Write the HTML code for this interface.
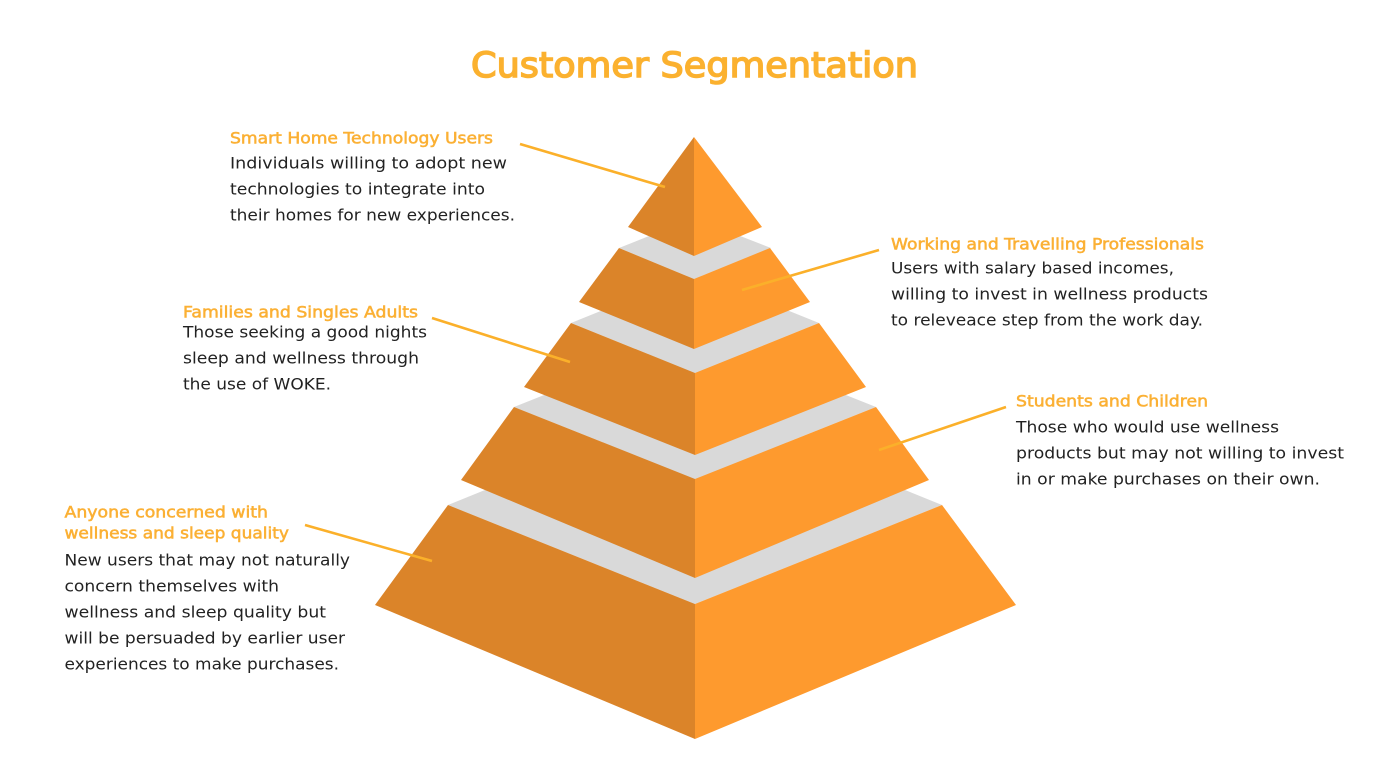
<!DOCTYPE html>
<html lang="en">
<head>
<meta charset="utf-8">
<title>Customer Segmentation</title>
<style>
html,body{margin:0;padding:0;background:#fff;width:1390px;height:782px;overflow:hidden}
svg{display:block}
text{font-family:"DejaVu Sans","Liberation Sans",sans-serif}
.h{font-size:16px;font-weight:400;fill:#fbb034;stroke:#fbb034;stroke-width:.55}
.b{font-size:16px;fill:#222}
.t{font-size:35px;fill:#fbb12f;stroke:#fbb12f;stroke-width:1.5}
.g{fill:#d9d9d9}.l{fill:#db8429}.r{fill:#fe9a2e}
.c{stroke:#fbb02a;stroke-width:2.6;fill:none}
</style>
</head>
<body>
<svg width="1390" height="782" viewBox="0 0 1390 782" xmlns="http://www.w3.org/2000/svg">
<rect width="1390" height="782" fill="#fff"/>
<text class="t" x="471" y="77" textLength="447" lengthAdjust="spacingAndGlyphs">Customer Segmentation</text>

<polygon class="g" points="448,505 695,405 942,505 695,604"/>
<polygon class="g" points="514,407 695,335 876,407 695,479"/>
<polygon class="g" points="571,323 695,273 819,323 695,373"/>
<polygon class="g" points="619,248 694,218 771,248 694,279"/>

<polygon class="l" points="448,505 695,604 695,739 375,605"/>
<polygon class="r" points="942,505 695,604 695,739 1016,605"/>
<polygon class="l" points="514,407 695,479 695,578 461,480"/>
<polygon class="r" points="876,407 695,479 695,578 929,480"/>
<polygon class="l" points="571,323 695,373 695,455 524,387"/>
<polygon class="r" points="819,323 695,373 695,455 866,387"/>
<polygon class="l" points="619,248 694,279 694,349 579,302"/>
<polygon class="r" points="770,248 694,279 694,349 810,302"/>
<polygon class="l" points="694,137 694,256 628,227"/>
<polygon class="r" points="694,137 694,256 762,227"/>

<line class="c" x1="520" y1="144" x2="665" y2="187"/>
<line class="c" x1="879" y1="250" x2="742" y2="290"/>
<line class="c" x1="432" y1="318" x2="570" y2="362"/>
<line class="c" x1="1006" y1="407" x2="879" y2="450"/>
<line class="c" x1="305" y1="525" x2="432" y2="561"/>

<text class="h" x="230" y="143.5" textLength="263" lengthAdjust="spacingAndGlyphs">Smart Home Technology Users</text>
<text class="b" x="230" y="168.5" textLength="277" lengthAdjust="spacingAndGlyphs">Individuals willing to adopt new</text>
<text class="b" x="230" y="194.5" textLength="255" lengthAdjust="spacingAndGlyphs">technologies to integrate into</text>
<text class="b" x="230" y="220.5" textLength="285" lengthAdjust="spacingAndGlyphs">their homes for new experiences.</text>

<text class="h" x="183" y="317.5" textLength="235" lengthAdjust="spacingAndGlyphs">Families and Singles Adults</text>
<text class="b" x="183" y="337.5" textLength="244" lengthAdjust="spacingAndGlyphs">Those seeking a good nights</text>
<text class="b" x="183" y="363.5" textLength="236" lengthAdjust="spacingAndGlyphs">sleep and wellness through</text>
<text class="b" x="183" y="389.5" textLength="148" lengthAdjust="spacingAndGlyphs">the use of WOKE.</text>

<text class="h" x="891" y="249.5" textLength="313" lengthAdjust="spacingAndGlyphs">Working and Travelling Professionals</text>
<text class="b" x="891" y="273.5" textLength="283" lengthAdjust="spacingAndGlyphs">Users with salary based incomes,</text>
<text class="b" x="891" y="299.5" textLength="317" lengthAdjust="spacingAndGlyphs">willing to invest in wellness products</text>
<text class="b" x="891" y="325.5" textLength="312" lengthAdjust="spacingAndGlyphs">to releveace step from the work day.</text>

<text class="h" x="1016" y="406.5" textLength="192" lengthAdjust="spacingAndGlyphs">Students and Children</text>
<text class="b" x="1016" y="432.5" textLength="263" lengthAdjust="spacingAndGlyphs">Those who would use wellness</text>
<text class="b" x="1016" y="458.5" textLength="328" lengthAdjust="spacingAndGlyphs">products but may not willing to invest</text>
<text class="b" x="1016" y="484.5" textLength="304" lengthAdjust="spacingAndGlyphs">in or make purchases on their own.</text>

<text class="h" x="64.5" y="517.5" textLength="203.5" lengthAdjust="spacingAndGlyphs">Anyone concerned with</text>
<text class="h" x="64.5" y="538.5" textLength="224.5" lengthAdjust="spacingAndGlyphs">wellness and sleep quality</text>
<text class="b" x="64.5" y="565.5" textLength="285.5" lengthAdjust="spacingAndGlyphs">New users that may not naturally</text>
<text class="b" x="64.5" y="591.5" textLength="214.5" lengthAdjust="spacingAndGlyphs">concern themselves with</text>
<text class="b" x="64.5" y="617.5" textLength="261.5" lengthAdjust="spacingAndGlyphs">wellness and sleep quality but</text>
<text class="b" x="64.5" y="643.5" textLength="280.5" lengthAdjust="spacingAndGlyphs">will be persuaded by earlier user</text>
<text class="b" x="64.5" y="669.5" textLength="274.5" lengthAdjust="spacingAndGlyphs">experiences to make purchases.</text>
</svg>
</body>
</html>
